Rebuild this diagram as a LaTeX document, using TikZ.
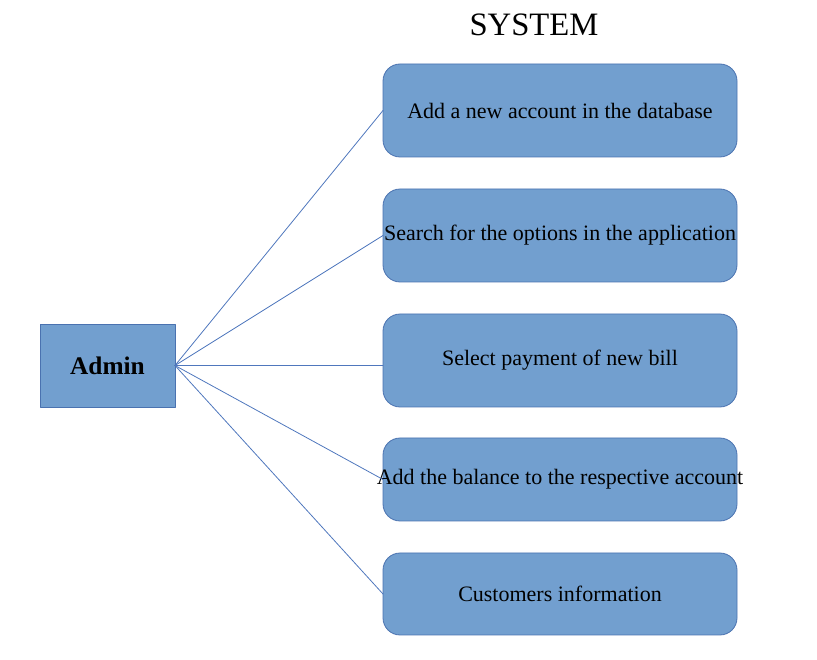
\documentclass[tikz,border=0pt]{standalone}
\usepackage{fontspec}
\setmainfont{Liberation Serif}
\usetikzlibrary{positioning}
\definecolor{boxfill}{HTML}{729FCF}
\definecolor{boxline}{HTML}{4A72B0}
\definecolor{linkline}{HTML}{4F77BD}
\begin{document}
\begin{tikzpicture}[x=0.75pt,y=0.75pt, line cap=round, line join=round,
                    every node/.style={outer sep=0pt}]

  \tikzset{
    actor/.style={draw=boxline, fill=boxfill, line width=0.6pt, minimum width=135*0.75pt, minimum height=83*0.75pt, font=\fontsize{19}{22}\selectfont\bfseries},
    usecase/.style={rounded corners=4.5mm, draw=boxline, fill=boxfill, line width=0.6pt, minimum width=354*0.75pt, font=\fontsize{16.5}{19}\selectfont, inner sep=0pt},
    link/.style={line width=0.6pt, draw=linkline}
  }

  \path[use as bounding box] (0,0) rectangle (817,660);

  \node[font=\fontsize{24.5}{28}\selectfont] (title) at (534,635) {SYSTEM};

  \node[actor] (admin) at (107.5,294.5) {Admin};

  \node[usecase, minimum height=93*0.75pt] (uc1) at (560,549.5) {Add a new account in the database};
  \node[usecase, minimum height=93*0.75pt] (uc2) at (560,424.5) {Search for the options in the application};
  \node[usecase, minimum height=93*0.75pt] (uc3) at (560,299.5) {Select payment of new bill};
  \node[usecase, minimum height=83*0.75pt] (uc4) at (560,180.5) {\makebox[0pt]{Add the balance to the respective account}};
  \node[usecase, minimum height=82*0.75pt] (uc5) at (560,66) {Customers information};

  \foreach \u in {uc1,uc2,uc4,uc5} \draw[link] (admin.east) -- (\u.west);
  \draw[link] (admin.east) -- (admin.east -| uc3.west);
\end{tikzpicture}
\end{document}
